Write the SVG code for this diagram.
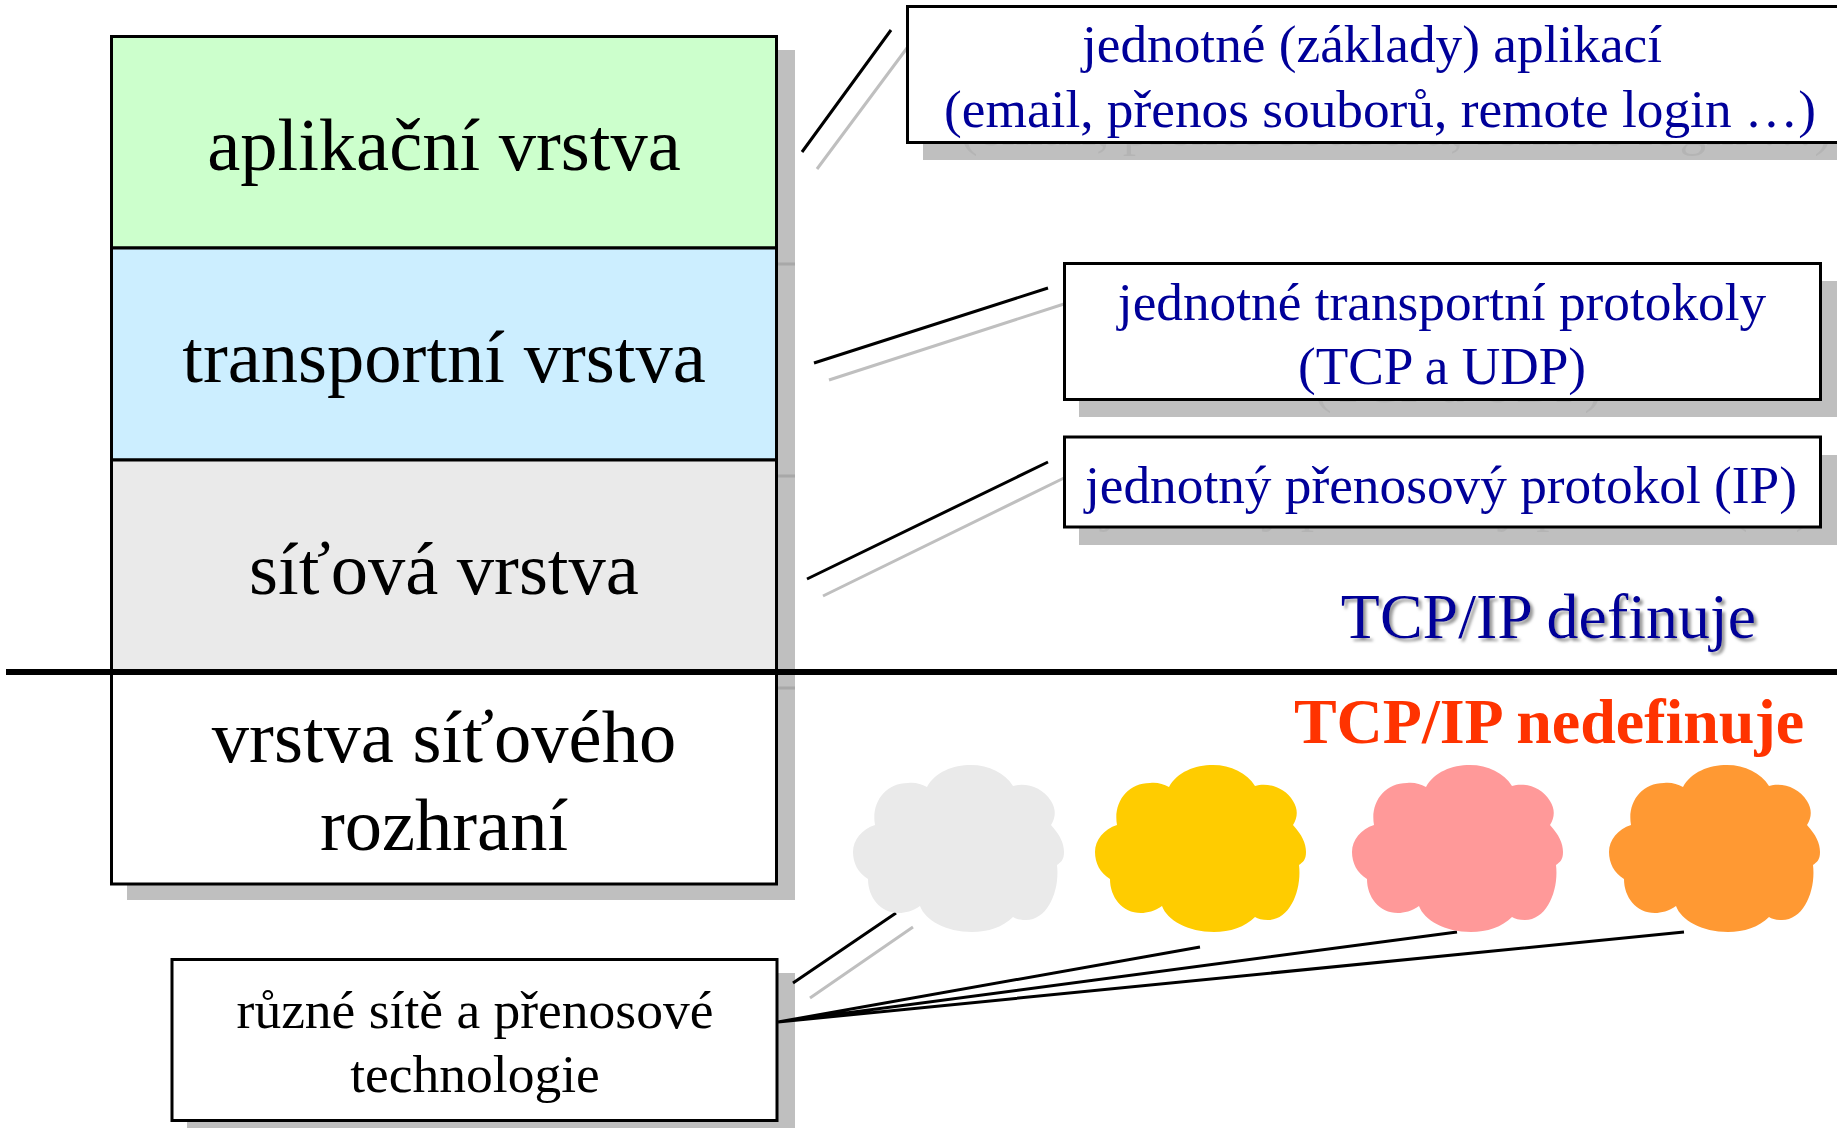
<svg xmlns="http://www.w3.org/2000/svg" width="1837" height="1128" viewBox="0 0 1837 1128">
<style>
text{font-family:"Liberation Serif","Times New Roman",serif;text-anchor:middle}
.box{stroke:#000;stroke-width:3}
.sh{fill:#bfbfbf}
.shl{fill:none;stroke:#a8a8a8;stroke-width:3}
.l{font-size:74.500px;fill:#000}
.b{font-size:53.300px;fill:#000099}
.k{font-size:53.500px;fill:#000}
.c{stroke:#000;stroke-width:3;fill:none}
.g{stroke:#bfbfbf;stroke-width:3;fill:none}
</style>
<defs>
<path id="cloud" d="M74 22C82 7 100 0 118 0C136 0 152 8 160 21C172 17 190 22 198 36C203 44 203 52 198 60C207 70 211 78 211 87C211 95 208 97 204 100C207 125 195 155 173 155C167 155 163 154 160 152C150 162 135 167 119 167C93 167 72 155 67 141C60 146 52 148 46 148C27 148 15 132 15 114C5 108 0 98 0 87C0 75 9 64 22 60C18 38 32 18 55 18C62 17 68 19 74 22Z"/>
<filter id="ghost" x="-5%" y="-20%" width="110%" height="140%">
<feFlood flood-color="#b4b4b4"/>
<feComposite in2="SourceAlpha" operator="in"/>
</filter>
<filter id="soft" x="-5%" y="-20%" width="110%" height="140%">
<feDropShadow dx="3" dy="3" stdDeviation="1.500" flood-color="#9a9a9a"/>
</filter>
</defs>
<rect width="1837" height="1128" fill="#fff"/>
<g id="shadows">
<rect class="sh" x="127" y="50" width="668" height="850"/>
<path class="shl" d="M127 264H795M127 476H795M127 688H795"/>
<rect class="sh" x="923" y="24" width="930" height="136"/>
<rect class="sh" x="1079" y="281" width="770" height="136"/>
<rect class="sh" x="1079" y="455" width="770" height="90"/>
<rect class="sh" x="187" y="973" width="608" height="170"/>
<use href="#t1b" x="16" y="18" filter="url(#ghost)"/>
<use href="#t2b" x="16" y="18" filter="url(#ghost)"/>
<use href="#t3" x="16" y="18" filter="url(#ghost)"/>
</g>
<g id="connectors">
<path class="g" d="M907 48L817 169M1064 304L829 380M1064 478L823 596M913 927L810 998"/>
<path class="c" d="M891 30L802 152M1048 288L814 363M1048 462L807 579M896 913L793 983M778 1022L1200 947M778 1022L1457 932M778 1022L1684 932"/>
</g>
<g id="aplikacni">
<rect class="box" x="111.500" y="36.500" width="665" height="211.500" fill="#ccffcc"/>
<text class="l" x="444" y="170">aplikační vrstva</text>
</g>
<g id="transportni">
<rect class="box" x="111.500" y="248" width="665" height="212" fill="#cceeff"/>
<text class="l" x="444" y="382">transportní vrstva</text>
</g>
<g id="sitova">
<rect class="box" x="111.500" y="460" width="665" height="212" fill="#eaeaea"/>
<text class="l" x="444" y="594">síťová vrstva</text>
</g>
<g id="rozhrani">
<rect class="box" x="111.500" y="672" width="665" height="212" fill="#fff"/>
<text class="l" x="444" y="762">vrstva síťového</text>
<text class="l" x="444" y="850">rozhraní</text>
</g>
<g id="divider"><rect x="6" y="669" width="1831" height="6" fill="#000"/></g>
<g id="callout-aplikace">
<rect class="box" x="907.500" y="6.500" width="945" height="136" fill="#fff"/>
<text class="b" x="1372" y="62">jednotné (základy) aplikací</text>
<text id="t1b" class="b" x="1380" y="127">(email, přenos souborů, remote login …)</text>
</g>
<g id="callout-transport">
<rect class="box" x="1064.500" y="263.500" width="756" height="136" fill="#fff"/>
<text class="b" x="1442" y="320">jednotné transportní protokoly</text>
<text id="t2b" class="b" x="1442" y="384">(TCP a UDP)</text>
</g>
<g id="callout-ip">
<rect class="box" x="1064.500" y="437" width="756" height="90" fill="#fff"/>
<text id="t3" class="b" x="1441" y="503">jednotný přenosový protokol (IP)</text>
</g>
<g id="label-definuje">
<text x="1548.500" y="638" font-size="64" fill="#000099" filter="url(#soft)">TCP/IP definuje</text>
</g>
<g id="label-nedefinuje">
<text x="1549" y="743" font-size="64" font-weight="bold" fill="#ff3300">TCP/IP nedefinuje</text>
</g>
<g id="cloud-gray"><use href="#cloud" x="853" y="765" fill="#eaeaea"/></g>
<g id="cloud-yellow"><use href="#cloud" x="1095" y="765" fill="#ffcc00"/></g>
<g id="cloud-pink"><use href="#cloud" x="1352" y="765" fill="#ff9999"/></g>
<g id="cloud-orange"><use href="#cloud" x="1609" y="765" fill="#ff9933"/></g>
<g id="ruzne">
<rect class="box" x="172" y="959.500" width="605" height="161" fill="#fff"/>
<text class="k" x="475" y="1028">různé sítě a přenosové</text>
<text class="k" x="475" y="1092">technologie</text>
</g>
</svg>
